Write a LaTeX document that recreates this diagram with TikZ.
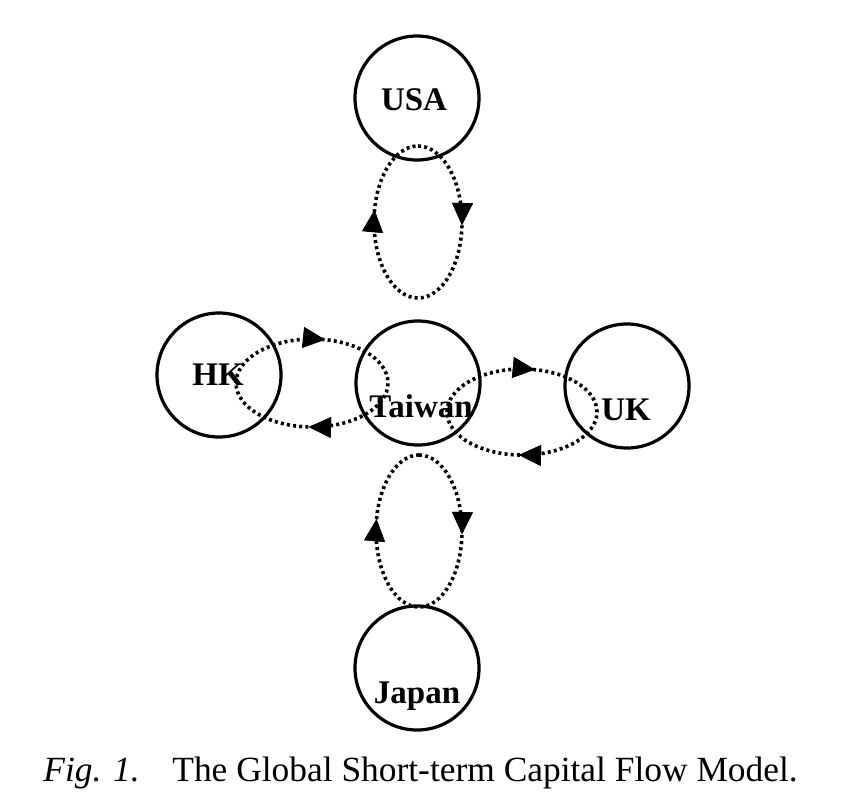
\documentclass[tikz,border=0pt]{standalone}
\usepackage{fontspec}
\setmainfont{Liberation Serif}
\usetikzlibrary{decorations.markings}
\begin{document}
\begin{tikzpicture}[x=0.5pt,y=-0.5pt,
  country/.style={circle,draw,line width=1.6pt,minimum size=62pt,inner sep=0pt},
  lbl/.style={font=\fontsize{16.5}{18}\selectfont\bfseries,anchor=base,inner sep=0pt},
  flow/.style={line width=1.8pt,dash pattern=on 1.5pt off 1.6pt},
  tip/.style={decoration={markings,mark=at position #1 with {\fill (0,0) -- (-11pt,5.25pt) -- (-11pt,-5.25pt) -- cycle;}},postaction={decorate}}
]
\useasboundingbox (0,0) rectangle (854,808);
% circles
\node[country] (usa) at (417,98) {};
\node[country] (hk) at (219,375) {};
\node[country] (tw) at (418,383) {};
\node[country] (uk) at (627,386) {};
\node[country] (jp) at (417,668) {};
% labels
\node[lbl] (lusa) at (414,110) {USA};
\node[lbl] (lhk) at (218,385) {HK};
\node[lbl] (ltw) at (421,417) {Taiwan};
\node[lbl] (luk) at (626,420) {UK};
\node[lbl] (ljp) at (417,703) {Japan};
% loops
\coordinate (ua) at (418,146);
\coordinate (ja) at (419,455);
\coordinate (ha) at (236,383);
\coordinate (ka) at (447,412);
\draw[flow,tip=0.258,tip=0.781] (ua) arc[start angle=-90,end angle=270,x radius=44,y radius=76];
\draw[flow,tip=0.258,tip=0.781] (ja) arc[start angle=-90,end angle=270,x radius=43,y radius=76];
\draw[flow,tip=0.284,tip=0.758] (ha) arc[start angle=180,end angle=540,x radius=76,y radius=44];
\draw[flow,tip=0.284,tip=0.758] (ka) arc[start angle=180,end angle=540,x radius=75,y radius=43];
% caption
\node[font=\fontsize{17.7}{20}\selectfont\itshape,anchor=base west,inner sep=0pt] (fig) at (43,781) {Fig. 1.};
\node[font=\fontsize{17.7}{20}\selectfont,anchor=base west,inner sep=0pt] (cap) at (172,781) {The Global Short-term Capital Flow Model.};
\end{tikzpicture}
\end{document}
